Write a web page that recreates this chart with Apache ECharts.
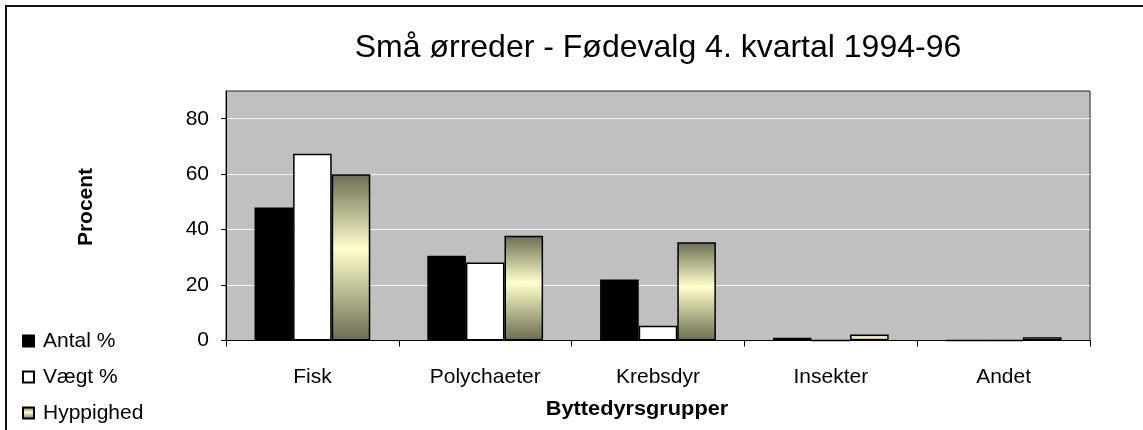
<!DOCTYPE html>
<html>
<head>
<meta charset="utf-8">
<script src="https://cdn.jsdelivr.net/npm/echarts@6/dist/echarts.min.js"></script>
<style>
html,body{margin:0;padding:0;background:#fff;}
#c{width:1143px;height:430px;}
</style>
</head>
<body>
<div id="c"></div>
<script>
var titleText = 'Små ørreder - Fødevalg 4. kvartal 1994-96';
var categories = ['Fisk', 'Polychaeter', 'Krebsdyr', 'Insekter', 'Andet'];
var seriesNames = ['Antal %', 'Vægt %', 'Hyppighed'];
var antal = [48, 30.6, 22, 1, 0];
var vaegt = [67.4, 28.1, 5.3, 0, 0];
var hyppighed = [60, 37.8, 35.4, 2.2, 1.2];
var yTicks = [0, 20, 40, 60, 80];
var yAxisName = 'Procent';
var xAxisName = 'Byttedyrsgrupper';

var FONT = '"Liberation Sans", Arial, sans-serif';
var hypGrad = new echarts.graphic.LinearGradient(0, 0, 0, 1, [
  {offset: 0, color: '#6c6c52'},
  {offset: 0.45, color: '#ffffcc'},
  {offset: 1, color: '#6c6c52'}
]);

var chart = echarts.init(document.getElementById('c'), null, {renderer: 'canvas'});
chart.setOption({
  animation: false,
  backgroundColor: '#ffffff',
  textStyle: {fontFamily: FONT},
  grid: {left: 226, right: 53, top: 91, bottom: 89.5, show: true,
         backgroundColor: '#c0c0c0', borderColor: '#222', borderWidth: 1},
  legend: {
    orient: 'vertical', left: 22, top: 330, itemGap: 14, padding: 0,
    itemWidth: 11, itemHeight: 11, icon: 'rect',
    textStyle: {fontSize: 21, color: '#000', fontFamily: FONT, lineHeight: 22, padding: [0, 0, 0, 4]},
    data: seriesNames
  },
  xAxis: {
    type: 'category', data: categories,
    axisLine: {lineStyle: {color: '#000', width: 1}},
    axisTick: {show: true, length: 6, lineStyle: {color: '#000'}},
    axisLabel: {fontSize: 21, color: '#000', margin: 26, fontFamily: FONT},
    splitLine: {show: false}
  },
  yAxis: {
    type: 'value', min: 0, max: 90, interval: 10,
    axisLine: {show: true, lineStyle: {color: '#000', width: 1}},
    axisTick: {show: true, length: 5, lineStyle: {color: '#000'}, customValues: yTicks},
    axisLabel: {fontSize: 21, color: '#000', margin: 17, fontFamily: FONT, customValues: yTicks},
    splitLine: {show: true, lineStyle: {color: '#f4f4f4', width: 1}}
  },
  graphic: [
    {type: 'polyline', shape: {points: [[6, 440], [6, 6], [1150, 6]]}, style: {stroke: '#111', lineWidth: 2, fill: null}, z: 100},
    {type: 'text', x: 658, y: 48, style: {text: titleText, font: '32px ' + FONT, fill: '#000', align: 'center', verticalAlign: 'middle'}},
    {type: 'text', x: 86, y: 207, rotation: Math.PI / 2, style: {text: yAxisName, font: 'bold 21px ' + FONT, fill: '#000', align: 'center', verticalAlign: 'middle'}},
    {type: 'text', x: 637, y: 409, scaleX: 1.087, style: {text: xAxisName, font: 'bold 20px ' + FONT, fill: '#000', align: 'center', verticalAlign: 'middle'}}
  ],
  series: [
    {name: seriesNames[0], type: 'bar', data: antal, barGap: '0%', barCategoryGap: '33%',
     itemStyle: {color: '#000', borderColor: '#000', borderWidth: 1.5}},
    {name: seriesNames[1], type: 'bar', data: vaegt, barGap: '0%', barCategoryGap: '33%',
     itemStyle: {color: '#fff', borderColor: '#000', borderWidth: 1.5}},
    {name: seriesNames[2], type: 'bar', data: hyppighed, barGap: '0%', barCategoryGap: '33%',
     itemStyle: {color: hypGrad, borderColor: '#000', borderWidth: 1.5}}
  ]
});
</script>
</body>
</html>
